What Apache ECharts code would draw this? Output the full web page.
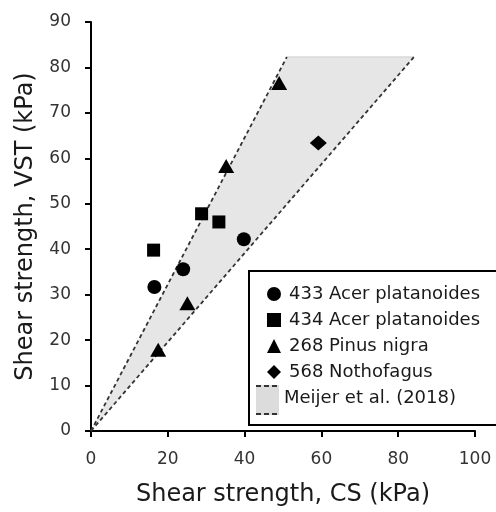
<!DOCTYPE html>
<html>
<head>
<meta charset="utf-8">
<script src="https://cdn.jsdelivr.net/npm/echarts@6/dist/echarts.min.js"></script>
<style>
html,body{margin:0;padding:0;background:#fff;}
#chart{width:496px;height:512px;}
</style>
</head>
<body>
<div id="chart"></div>
<script>
// ---- data ----
const acer433 = [[16.5, 31.7], [24.0, 35.6], [39.8, 42.2]];
const acer434 = [[16.3, 39.8], [28.8, 47.8], [33.3, 46.0]];
const pinus268 = [[17.5, 17.9], [25.1, 28.1], [35.2, 58.3], [49.0, 76.6]];
const notho568 = [[59.2, 63.4]];
const meijerUpper = [[0, 0], [51.0, 82.3]];
const meijerLower = [[0, 0], [84.1, 82.3]];
const meijerTop = [[51.0, 82.3], [84.1, 82.3]];
const xTitle = 'Shear strength, CS (kPa)';
const yTitle = 'Shear strength, VST (kPa)';
const seriesNames = ['433 Acer platanoides', '434 Acer platanoides', '268 Pinus nigra', '568 Nothofagus'];
const meijerName = 'Meijer et al. (2018)';

const FONT = 'DejaVu Sans';
const chart = echarts.init(document.getElementById('chart'), null, {renderer: 'canvas'});
const polygon = [meijerUpper[0], meijerUpper[1], meijerLower[1]];

const option = {
  animation: false,
  backgroundColor: '#fff',
  grid: {left: 91, right: 21, top: 22, bottom: 79, containLabel: false},
  xAxis: {
    type: 'value', min: 0, max: 100, interval: 20,
    name: xTitle, nameLocation: 'middle', nameGap: 52,
    nameTextStyle: {fontFamily: FONT, fontSize: 24, color: '#1a1a1a'},
    axisLine: {lineStyle: {color: '#000', width: 2}},
    axisTick: {show: true, length: 6, lineStyle: {color: '#000', width: 2}},
    axisLabel: {fontFamily: FONT, fontSize: 17, color: '#333', margin: 20},
    splitLine: {show: false}
  },
  yAxis: {
    type: 'value', min: 0, max: 90, interval: 10,
    name: yTitle, nameLocation: 'middle', nameGap: 53,
    nameTextStyle: {fontFamily: FONT, fontSize: 24, color: '#1a1a1a'},
    axisLine: {lineStyle: {color: '#000', width: 2}},
    axisTick: {show: true, length: 6, lineStyle: {color: '#000', width: 2}},
    axisLabel: {fontFamily: FONT, fontSize: 17, color: '#333', margin: 20},
    splitLine: {show: false}
  },
  legend: {
    orient: 'vertical', left: 262, top: 280,
    itemWidth: 14, itemHeight: 14, itemGap: 8,
    textStyle: {fontFamily: FONT, fontSize: 18, lineHeight: 18, color: '#1a1a1a', padding: [0, 0, 0, 3]},
    data: [
      {name: seriesNames[0], icon: 'circle'},
      {name: seriesNames[1], icon: 'rect'},
      {name: seriesNames[2], icon: 'triangle'},
      {name: seriesNames[3], icon: 'diamond'}
    ],
    z: 10
  },
  graphic: [
    {type: 'rect', left: 248, top: 270, shape: {width: 260, height: 154},
     style: {fill: '#fff', stroke: '#000', lineWidth: 2}, z: 5},
    {type: 'rect', left: 256, top: 385, shape: {width: 23, height: 30},
     style: {fill: '#dcdcdc'}, z: 6},
    {type: 'line', shape: {x1: 256, y1: 386, x2: 280, y2: 386},
     style: {stroke: '#333', lineWidth: 2, lineDash: [5, 3]}, z: 7},
    {type: 'line', shape: {x1: 256, y1: 414, x2: 280, y2: 414},
     style: {stroke: '#333', lineWidth: 2, lineDash: [5, 3]}, z: 7},
    {type: 'text', x: 284, y: 398,
     style: {text: meijerName, font: '18px "DejaVu Sans"', fill: '#1a1a1a', textVerticalAlign: 'middle', verticalAlign: 'middle'}, z: 7}
  ],
  series: [
    {
      type: 'custom', name: meijerName, silent: true, z: 1,
      data: [0],
      renderItem: function (params, api) {
        const pts = polygon.map(p => api.coord(p));
        return {type: 'polygon', shape: {points: pts}, style: {fill: '#e6e6e6', stroke: null}};
      }
    },
    {type: 'line', data: meijerTop, symbol: 'none', z: 2, silent: true,
     lineStyle: {color: '#d8d8d8', width: 1.5}},
    {type: 'line', data: meijerUpper, symbol: 'none', z: 2, silent: true,
     lineStyle: {color: '#333', width: 1.8, type: [4, 3]}},
    {type: 'line', data: meijerLower, symbol: 'none', z: 2, silent: true,
     lineStyle: {color: '#333', width: 1.8, type: [4, 3]}},
    {type: 'scatter', name: seriesNames[0], data: acer433, symbol: 'circle', symbolSize: 14,
     itemStyle: {color: '#000', opacity: 1}, z: 3},
    {type: 'scatter', name: seriesNames[1], data: acer434, symbol: 'rect', symbolSize: 13,
     itemStyle: {color: '#000', opacity: 1}, z: 3},
    {type: 'scatter', name: seriesNames[2], data: pinus268, symbol: 'triangle', symbolSize: [16, 14],
     itemStyle: {color: '#000', opacity: 1}, z: 3},
    {type: 'scatter', name: seriesNames[3], data: notho568, symbol: 'diamond', symbolSize: [17, 15],
     itemStyle: {color: '#000', opacity: 1}, z: 3}
  ]
};
chart.setOption(option);
</script>
</body>
</html>
